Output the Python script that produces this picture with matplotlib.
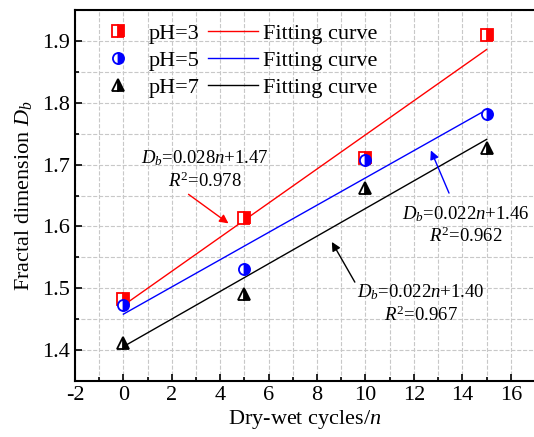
import numpy as np
import matplotlib
matplotlib.use("Agg")
import matplotlib.pyplot as plt
from matplotlib.ticker import MultipleLocator

plt.rcParams["font.family"] = "Liberation Serif"
plt.rcParams["mathtext.fontset"] = "custom"
plt.rcParams["mathtext.rm"] = "Liberation Serif"
plt.rcParams["mathtext.it"] = "Liberation Serif:italic"
plt.rcParams["font.size"] = 16
plt.rcParams["axes.unicode_minus"] = False

# dry-wet cycles and fractal dimension
cycles = [0, 5, 10, 15]
db_ph3 = [1.483, 1.613, 1.711, 1.910]
db_ph5 = [1.473, 1.532, 1.707, 1.782]
db_ph7 = [1.412, 1.491, 1.663, 1.727]

labels = ["pH=3", "pH=5", "pH=7"]
colors = ["red", "blue", "black"]
markers = ["s", "o", "^"]

fit_texts = ["$D_b$=0.028$n$+1.47\n$R^2$=0.978",
             "$D_b$=0.022$n$+1.46\n$R^2$=0.962",
             "$D_b$=0.022$n$+1.40\n$R^2$=0.967"]

fig = plt.figure(figsize=(5.34, 4.37), dpi=100)
ax = fig.add_axes([0.1404, 0.128, 0.8596, 0.849])

points = []
lines = []
for y, lab, c, m in zip([db_ph3, db_ph5, db_ph7], labels, colors, markers):
    p, = ax.plot(cycles, y, linestyle="none", marker=m, color=c, markersize=8,
                 fillstyle="right", markerfacecoloralt="white",
                 markeredgewidth=1.3, label=lab, zorder=4)
    # least squares fit for each pH
    k, b = np.polyfit(cycles, y, 1)
    xx = np.array([cycles[0], cycles[-1]])
    l, = ax.plot(xx, k * xx + b, color=c, lw=1.0, label="Fitting curve", zorder=3)
    points.append(p)
    lines.append(l)

# equations
ax.text(3.35, 1.692, fit_texts[0], fontsize=13.5, ha="center", va="center",
        multialignment="center")
ax.text(14.15, 1.602, fit_texts[1], fontsize=13.5, ha="center", va="center",
        multialignment="center")
ax.text(12.29, 1.4755, fit_texts[2], fontsize=13.5, ha="center", va="center",
        multialignment="center")

# arrows pointing at the fitted lines
arrow_tails = [(2.69, 1.652), (13.45, 1.654), (9.56, 1.510)]
arrow_heads = [(4.34, 1.605), (12.70, 1.723), (8.61, 1.575)]
for tail, head, c in zip(arrow_tails, arrow_heads, colors):
    ax.annotate("", xy=head, xytext=tail,
                arrowprops=dict(arrowstyle="-|>", color=c, lw=1.0,
                                mutation_scale=13, shrinkA=0, shrinkB=0))

ax.set_xlim(-2, 16.96)
ax.set_ylim(1.35, 1.95)
ax.xaxis.set_major_locator(MultipleLocator(2))
ax.xaxis.set_minor_locator(MultipleLocator(1))
ax.yaxis.set_major_locator(MultipleLocator(0.1))
ax.yaxis.set_minor_locator(MultipleLocator(0.05))
ax.tick_params(which="both", direction="in", width=1.2)
ax.tick_params(which="major", length=5)
ax.tick_params(which="minor", length=3)
ax.grid(which="both", linestyle="--", color="#c8c8c8", lw=0.8)
ax.set_axisbelow(True)
for s in ["left", "bottom", "top"]:
    ax.spines[s].set_linewidth(1.5)
ax.spines["right"].set_visible(False)

ax.set_xlabel("Dry-wet cycles/$n$", labelpad=2)
ax.set_ylabel("Fractal dimension $D_b$", labelpad=6)

ax.legend(points + lines, labels + ["Fitting curve"] * 3, ncol=2,
          frameon=False, loc="upper left", bbox_to_anchor=(0.04, 0.965),
          borderpad=0, borderaxespad=0, handlelength=2.25,
          handletextpad=0.25, columnspacing=0.35, labelspacing=0.3)

fig.savefig("out.png", dpi=100)
